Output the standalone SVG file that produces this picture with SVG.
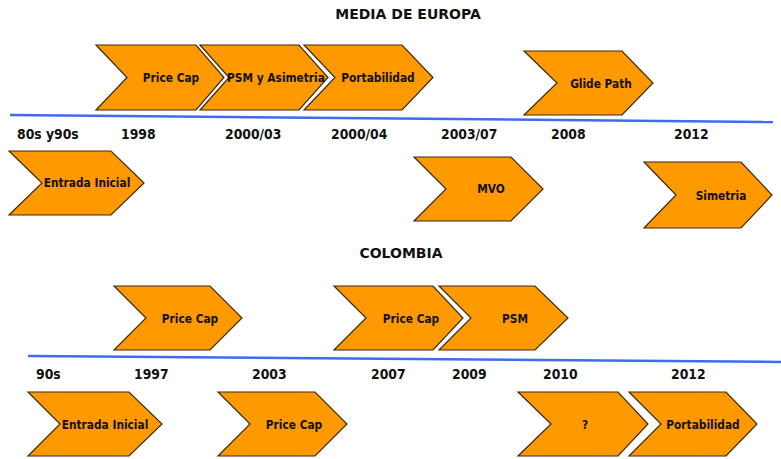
<svg xmlns="http://www.w3.org/2000/svg" width="781" height="459" viewBox="0 0 781 459">
<style>
.chev{fill:#FF9900;stroke:#3a2a10;stroke-width:1.2;stroke-linejoin:miter}
.t{font-family:"DejaVu Sans","Liberation Sans",sans-serif;font-weight:bold;fill:#111}
.c{font-family:"DejaVu Sans Condensed","DejaVu Sans","Liberation Sans",sans-serif;font-stretch:condensed}
.title{font-size:14px;text-anchor:middle}
.yr{font-size:13.8px}
.lbl{font-size:11.8px;text-anchor:middle}
.axis{stroke:#3d6cf0;stroke-width:2.5;fill:none}
</style>
<rect width="781" height="459" fill="#fff"/>
<text class="t title" x="408" y="19">MEDIA DE EUROPA</text>
<text class="t title" x="401" y="258">COLOMBIA</text>
<g id="connectors">
<line class="axis" x1="10" y1="115" x2="773" y2="122"/>
<line class="axis" x1="28" y1="356" x2="781" y2="362"/>
</g>
<g id="eu-years">
<text class="t c yr" x="17" y="139">80s y90s</text>
<text class="t c yr" x="121" y="139">1998</text>
<text class="t c yr" x="225" y="139">2000/03</text>
<text class="t c yr" x="331" y="139">2000/04</text>
<text class="t c yr" x="441" y="139">2003/07</text>
<text class="t c yr" x="551" y="139">2008</text>
<text class="t c yr" x="674" y="139">2012</text>
</g>
<g id="co-years">
<text class="t c yr" x="36" y="379">90s</text>
<text class="t c yr" x="134" y="379">1997</text>
<text class="t c yr" x="252" y="379">2003</text>
<text class="t c yr" x="371" y="379">2007</text>
<text class="t c yr" x="452" y="379">2009</text>
<text class="t c yr" x="543" y="379">2010</text>
<text class="t c yr" x="671" y="379">2012</text>
</g>
<g id="eu-pricecap">
<polygon class="chev" points="96,45 196,45 224,77.5 196,110 96,110 127,77.5"/>
<text class="t c lbl" x="171" y="82">Price Cap</text>
</g>
<g id="eu-psm">
<polygon class="chev" points="200,45 299,45 328,77.5 299,110 200,110 229,77.5"/>
<text class="t c lbl" x="276" y="82">PSM y Asimetria</text>
</g>
<g id="eu-portabilidad">
<polygon class="chev" points="304,45 402,45 433,77.5 402,110 304,110 335,77.5"/>
<text class="t c lbl" x="378" y="82">Portabilidad</text>
</g>
<g id="eu-glidepath">
<polygon class="chev" points="524,51 622,51 653,83 622,115 524,115 557,83"/>
<text class="t c lbl" x="601" y="88">Glide Path</text>
</g>
<g id="eu-entrada">
<polygon class="chev" points="9,151 111,151 144,183 111,215 9,215 42,183"/>
<text class="t c lbl" x="87" y="187">Entrada Inicial</text>
</g>
<g id="eu-mvo">
<polygon class="chev" points="414,157 511,157 543,189 511,221 414,221 446,189"/>
<text class="t c lbl" x="491" y="193">MVO</text>
</g>
<g id="eu-simetria">
<polygon class="chev" points="644,162 741,162 772,195 741,228 644,228 676,195"/>
<text class="t c lbl" x="721" y="200">Simetria</text>
</g>
<g id="co-pricecap-1997">
<polygon class="chev" points="114,286 210,286 242,318 210,350 114,350 146,318"/>
<text class="t c lbl" x="190" y="323">Price Cap</text>
</g>
<g id="co-pricecap-2007">
<polygon class="chev" points="334,286 433,286 463,318 433,350 334,350 366,318"/>
<text class="t c lbl" x="411" y="323">Price Cap</text>
</g>
<g id="co-psm">
<polygon class="chev" points="439,286 535,286 568,318 535,350 439,350 471,318"/>
<text class="t c lbl" x="515" y="323">PSM</text>
</g>
<g id="co-entrada">
<polygon class="chev" points="28,392 129,392 162,424 129,456 28,456 60,424"/>
<text class="t c lbl" x="105" y="429">Entrada Inicial</text>
</g>
<g id="co-pricecap-2003">
<polygon class="chev" points="218,392 315,392 347,424 315,456 218,456 250,424"/>
<text class="t c lbl" x="294" y="429">Price Cap</text>
</g>
<g id="co-question">
<polygon class="chev" points="518,392 618,392 648,424 618,456 518,456 551,424"/>
<text class="t c lbl" x="585" y="429">?</text>
</g>
<g id="co-portabilidad">
<polygon class="chev" points="629,392 726,392 757,424 726,456 629,456 661,424"/>
<text class="t c lbl" x="703" y="429">Portabilidad</text>
</g>
</svg>
